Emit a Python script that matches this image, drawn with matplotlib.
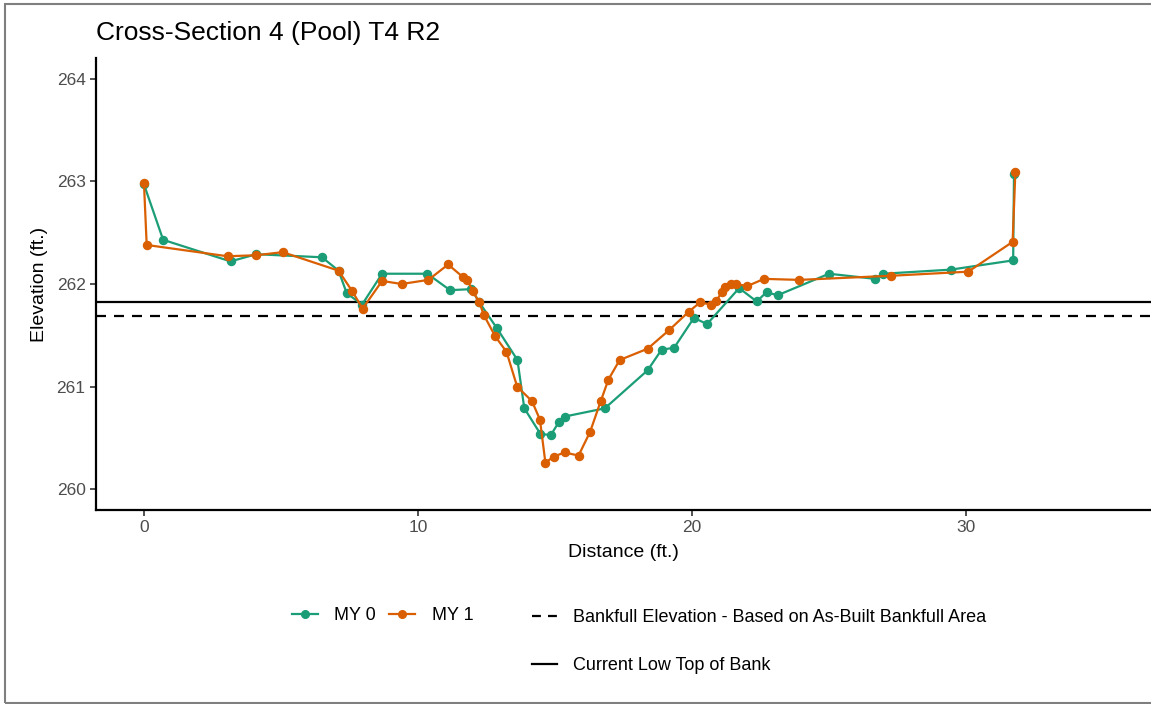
import numpy as np
import matplotlib
matplotlib.use("Agg")
import matplotlib.pyplot as plt
from matplotlib.lines import Line2D
from matplotlib.patches import Rectangle

# survey data
my0_dist = [0, 0.7, 3.16, 4.1, 6.5, 7.1, 7.4, 7.96, 8.69, 10.34, 11.17, 11.95, 12.24,
            12.88, 13.63, 13.88, 14.47, 14.85, 15.15, 15.36, 16.82, 18.38, 18.89, 19.35,
            20.07, 20.55, 21.72, 22.36, 22.72, 23.12, 25.0, 26.68, 26.98, 29.45, 31.72, 31.75]
my0_elev = [262.97, 262.43, 262.22, 262.29, 262.26, 262.13, 261.91, 261.80, 262.10, 262.10,
            261.94, 261.95, 261.82, 261.57, 261.26, 260.79, 260.54, 260.53, 260.66, 260.71,
            260.79, 261.16, 261.36, 261.38, 261.67, 261.61, 261.96, 261.83, 261.92, 261.89,
            262.10, 262.05, 262.10, 262.14, 262.23, 263.07]

my1_dist = [0, 0.1, 3.05, 4.1, 5.06, 7.1, 7.6, 7.98, 8.69, 9.4, 10.38, 11.1, 11.63, 11.8,
            12.0, 12.24, 12.4, 12.82, 13.23, 13.62, 14.16, 14.45, 14.65, 14.95, 15.35, 15.86,
            16.28, 16.67, 16.95, 17.36, 18.38, 19.16, 19.88, 20.29, 20.71, 20.88, 21.08, 21.22,
            21.42, 21.6, 22.02, 22.63, 23.91, 27.25, 30.08, 31.7, 31.8]
my1_elev = [262.98, 262.38, 262.27, 262.28, 262.31, 262.13, 261.93, 261.76, 262.03, 262.00,
            262.04, 262.19, 262.07, 262.04, 261.93, 261.82, 261.70, 261.49, 261.34, 261.00,
            260.86, 260.68, 260.26, 260.32, 260.36, 260.33, 260.56, 260.86, 261.07, 261.26,
            261.37, 261.55, 261.73, 261.82, 261.80, 261.83, 261.92, 261.97, 262.00, 262.00,
            261.98, 262.05, 262.04, 262.08, 262.12, 262.41, 263.09]

bankfull_elev = 261.69
low_top_bank = 261.825

c_my0 = "#1B9E77"
c_my1 = "#D95F02"

plt.rcParams['font.family'] = ['Liberation Sans', 'DejaVu Sans']

W, H = 1151, 704
fig = plt.figure(figsize=(W / 100, H / 100), dpi=100)
fig.patches.append(Rectangle((5 / W, 1 / H), 1.2, 699 / H, transform=fig.transFigure,
                             fill=False, edgecolor="#7f7f7f", linewidth=1.5))

ax = fig.add_axes([96 / W, 194 / H, (W - 96) / W, 452 / H])

ax.plot(my0_dist, my0_elev, color=c_my0, lw=1.6, marker='o', ms=5.8, zorder=3)
ax.plot(my1_dist, my1_elev, color=c_my1, lw=1.6, marker='o', ms=5.8, zorder=3)
ax.axhline(bankfull_elev, color='black', ls=(0, (4.5, 3.6)), lw=1.6)
ax.axhline(low_top_bank, color='black', lw=1.6)

ax.set_xlim(-1.75, 36.75)
ax.set_ylim(259.8, 264.2)
ax.set_xticks([0, 10, 20, 30])
ax.set_yticks([260, 261, 262, 263, 264])
for s in ['top', 'right']:
    ax.spines[s].set_visible(False)
for s in ['left', 'bottom']:
    ax.spines[s].set_linewidth(1.6)
ax.tick_params(colors='#333333', labelcolor='#4d4d4d', labelsize=12.5, length=4, width=1.2)

ax.set_xlabel("Distance (ft.)", fontsize=14, labelpad=6)
ax.set_ylabel("Elevation (ft.)", fontsize=14, labelpad=6)
fig.text(96 / W, 1 - 33 / H, "Cross-Section 4 (Pool) T4 R2", fontsize=19,
         va='center', ha='left')

h1 = [Line2D([], [], color=c_my0, lw=1.6, marker='o', ms=5.5),
      Line2D([], [], color=c_my1, lw=1.6, marker='o', ms=5.5)]
fig.legend(h1, ["MY 0", "MY 1"], loc='center left', bbox_to_anchor=(292 / W, 1 - 616 / H),
           ncol=2, frameon=False, fontsize=13, handlelength=1.45, handletextpad=0.9,
           columnspacing=0.72, borderpad=0, borderaxespad=0)

h2 = [Line2D([], [], color='black', lw=1.6, ls=(0, (4, 3.2))),
      Line2D([], [], color='black', lw=1.6)]
fig.legend(h2, ["Bankfull Elevation - Based on As-Built Bankfull Area", "Current Low Top of Bank"],
           loc='upper left', bbox_to_anchor=(532 / W, 1 - 609 / H), ncol=1, frameon=False,
           fontsize=13, handlelength=1.4, handletextpad=0.85, labelspacing=1.72,
           borderpad=0, borderaxespad=0)

fig.savefig("out.png", dpi=100)
